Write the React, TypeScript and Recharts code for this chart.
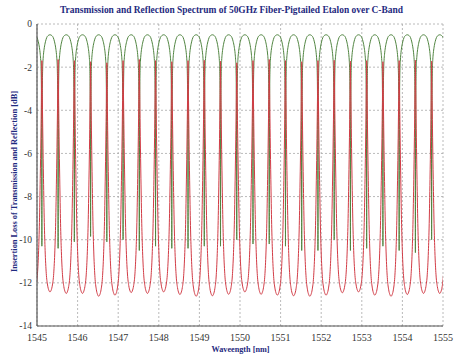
import React from 'react';
import { LineChart, Line, XAxis, YAxis, CartesianGrid } from 'recharts';

const X_TICKS = [1545, 1546, 1547, 1548, 1549, 1550, 1551, 1552, 1553, 1554, 1555];
const Y_TICKS = [0, -2, -4, -6, -8, -10, -12, -14];

// transmission dips (= reflection peaks), nm
const dipWavelengths = [
  1545.12, 1545.52, 1545.92, 1546.32, 1546.72, 1547.12, 1547.52, 1547.92, 1548.32,
  1548.72, 1549.12, 1549.52, 1549.92, 1550.32, 1550.72, 1551.12, 1551.52, 1551.92,
  1552.32, 1552.72, 1553.12, 1553.52, 1553.92, 1554.32, 1554.72,
];
// depth of each transmission dip, dB
const transDips = [
  -10.3, -10.4, -10.1, -9.85, -10.1, -10.0, -10.5, -10.3, -10.4, -10.4, -10.3, -10.3, -10.0,
  -10.2, -10.2, -10.3, -10.5, -10.5, -10.0, -10.5, -10.4, -10.3, -10.5, -10.6, -10.0,
];
const transPeak = -0.5;
// reflection peaks at the same wavelengths, dB
const reflPeaks = [
  -1.7, -1.65, -1.7, -1.75, -1.8, -1.7, -1.65, -1.7, -1.75, -1.7, -1.68, -1.72, -1.8,
  -1.7, -1.65, -1.7, -1.75, -1.7, -1.68, -1.72, -1.7, -1.75, -1.7, -1.68, -1.72,
];
// reflection minima, halfway after each dip above, dB
const reflDips = [
  -12.42, -12.49, -12.49, -12.62, -12.57, -12.45, -12.49, -12.42, -12.54, -12.62, -12.6,
  -12.53, -12.42, -12.53, -12.57, -12.6, -12.62, -12.57, -12.46, -12.42, -12.57, -12.62,
  -12.54, -12.49, -12.49,
];

// one period: [offset from dip as fraction of FSR, share of the swing]
const transShape: [number, number][] = [
  [0, 1], [0.005, 0.765], [0.015, 0.46], [0.03, 0.255], [0.05, 0.158], [0.07, 0.122],
  [0.1, 0.092], [0.15, 0.061], [0.22, 0.033], [0.3, 0.013], [0.4, 0.003], [0.5, 0],
];
const reflShape: [number, number][] = [
  [0, 0], [0.01, 0.06], [0.03, 0.17], [0.06, 0.33], [0.1, 0.51], [0.15, 0.7],
  [0.2, 0.82], [0.27, 0.92], [0.35, 0.97], [0.43, 0.993], [0.5, 1],
];

const FSR = 0.4;
const last = dipWavelengths.length - 1;
const dips = [dipWavelengths[0] - FSR, ...dipWavelengths, dipWavelengths[last] + FSR];
const tDepth = [transDips[0], ...transDips, transDips[last]];
const rPeak = [reflPeaks[0], ...reflPeaks, reflPeaks[last]];
const rDip = [reflDips[0], ...reflDips];

function buildSeries(shape: [number, number][], valueAt: (i: number, side: 0 | 1, f: number) => number) {
  const pts: { wl: number; v: number }[] = [];
  for (let i = 0; i < dips.length - 1; i++) {
    const a = dips[i];
    const b = dips[i + 1];
    const half = (b - a) / 2;
    shape.forEach(([o, f]) => {
      pts.push({ wl: a + (o / 0.5) * half, v: valueAt(i, 0, f) });
    });
    for (let s = shape.length - 2; s >= 0; s--) {
      const [o, f] = shape[s];
      if (s === 0 && i < dips.length - 2) continue;
      pts.push({ wl: b - (o / 0.5) * half, v: valueAt(i, 1, f) });
    }
  }
  return pts;
}

const transData = buildSeries(transShape, (i, side, f) => {
  const d = side === 0 ? tDepth[i] : tDepth[i + 1];
  return transPeak + f * (d - transPeak);
});
const reflData = buildSeries(reflShape, (i, side, f) => {
  const p = side === 0 ? rPeak[i] : rPeak[i + 1];
  return p + f * (rDip[i] - p);
});

const NAVY = '#1f2a80';
const FONT = '"Liberation Serif", "Times New Roman", serif';

export default function App() {
  return (
    <div style={{ position: 'absolute', left: 0, top: 0, width: 472, height: 360, background: '#fff' }}>
      <LineChart width={472} height={360} margin={{ top: 24, right: 29, bottom: 0, left: 0 }}>
        <CartesianGrid stroke="#a8a8a8" strokeDasharray="2 2" strokeWidth={0.8} />
        <XAxis
          type="number"
          dataKey="wl"
          domain={[1545, 1555]}
          ticks={X_TICKS}
          allowDataOverflow
          height={34}
          tickLine={false}
          axisLine={{ stroke: '#555', strokeWidth: 1.2 }}
          tick={{ fill: '#333', fontSize: 10, fontFamily: FONT }}
        />
        <XAxis xAxisId="top" orientation="top" type="number" domain={[1545, 1555]} height={0} tick={false} tickLine={false} axisLine={{ stroke: '#777' }} />
        <YAxis
          type="number"
          domain={[-14, 0]}
          ticks={Y_TICKS}
          allowDataOverflow
          width={37}
          tickLine={false}
          tickSize={3}
          tickMargin={2}
          axisLine={{ stroke: '#555', strokeWidth: 1.2 }}
          tick={{ fill: '#333', fontSize: 9.5, fontFamily: FONT }}
        />
        <YAxis yAxisId="right" orientation="right" type="number" domain={[-14, 0]} width={0} tick={false} tickLine={false} axisLine={{ stroke: '#888' }} />
        <Line
          data={transData}
          dataKey="v"
          type="monotone"
          stroke="#4f843f"
          strokeWidth={1}
          dot={false}
          isAnimationActive={false}
        />
        <Line
          data={reflData}
          dataKey="v"
          type="monotone"
          stroke="#d23c46"
          strokeWidth={1}
          dot={false}
          isAnimationActive={false}
        />
      </LineChart>
      <svg width={472} height={360} style={{ position: 'absolute', left: 0, top: 0, pointerEvents: 'none' }}>
        <text x={231.5} y={12.5} textAnchor="middle" fontFamily={FONT} fontWeight="bold" fontSize={10.5} fill={NAVY} textLength={343} lengthAdjust="spacingAndGlyphs">
          Transmission and Reflection Spectrum of 50GHz Fiber-Pigtailed Etalon over C-Band
        </text>
        <text transform="translate(16.5 181.5) rotate(-90)" textAnchor="middle" fontFamily={FONT} fontWeight="bold" fontSize={8.5} fill={NAVY} textLength={181} lengthAdjust="spacingAndGlyphs">
          Insertion Loss of Transmission and Reflection [dB]
        </text>
        <text x={240.5} y={352} textAnchor="middle" fontFamily={FONT} fontWeight="bold" fontSize={9} fill={NAVY} textLength={58} lengthAdjust="spacingAndGlyphs">
          Waveength [nm]
        </text>
      </svg>
    </div>
  );
}
